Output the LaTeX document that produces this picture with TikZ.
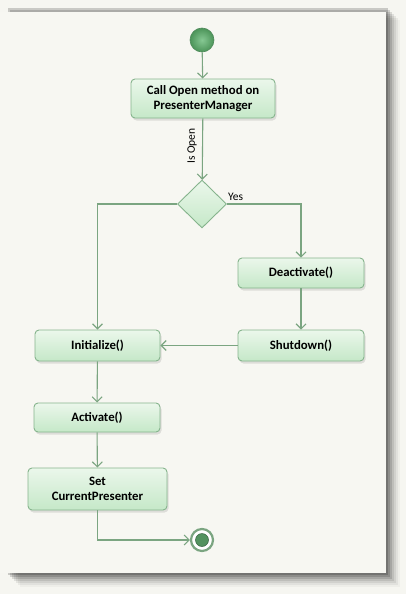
\documentclass[tikz,border=0pt]{standalone}
\usepackage{fontspec}
\setmainfont{Carlito}
\usetikzlibrary{arrows.meta,shapes.geometric,calc}
\definecolor{bgout}{HTML}{F6F6F1}
\definecolor{page}{HTML}{F7F7F2}
\definecolor{lnc}{HTML}{7BA581}
\definecolor{bord}{HTML}{86B48D}
\definecolor{ftop}{HTML}{EBF7EB}
\definecolor{fbot}{HTML}{C5E8C8}
\definecolor{dkgreen}{HTML}{4F8A5B}
\definecolor{ballc}{HTML}{62AC70}
\definecolor{ballin}{HTML}{86C893}
\definecolor{ballout}{HTML}{4C9459}
\tikzset{
  actbox/.style={draw=bord, line width=0.9pt, rounded corners=4pt, top color=ftop, bottom color=fbot,
    font=\bfseries\fontsize{12.8}{15.5}\selectfont, align=center, text=black, inner sep=0pt},
  conn/.style={draw=lnc, line width=1.1pt, -{Straight Barb[length=5pt,width=10pt]}},
  lbl/.style={font=\fontsize{11.5}{13}\selectfont, text=black},
}
\begin{document}
\begin{tikzpicture}[x=1pt,y=-1pt]
\useasboundingbox (0,0) rectangle (406,594);
\fill[bgout] (0,0) rectangle (406,594);
% page shadow
\foreach \i/\o in {14/0.03,12/0.05,10/0.07,8/0.09,6/0.12,4/0.15,2/0.18}{
  \fill[black, opacity=\o] (\i+6,12+\i-6) rectangle (386+\i,573+\i);
}
\fill[page] (0,12) rectangle (386,573);

% start node
\shade[inner color=ballin, outer color=ballout] (202,40) circle (12);
\node[circle, draw=dkgreen, line width=0.6pt, minimum size=24pt, inner sep=0pt] (start) at (202,40) {};

% box shadows
\foreach \cx/\cy/\w/\h in {203/98.5/144/39, 301/273/126/30, 301/345.5/126/31, 97.5/345.5/125/31, 97/417.5/126/29, 97.5/489/139/42}{
  \fill[black, opacity=0.10, rounded corners=4pt] (\cx-\w/2+1.5,\cy-\h/2+2.5) rectangle (\cx+\w/2+1.5,\cy+\h/2+2.5);
}

\node[actbox, minimum width=144pt, minimum height=39pt] (call) at (203,98.5) {Call Open method on\\PresenterManager};
\node[diamond, draw=bord, line width=0.9pt, top color=ftop, bottom color=fbot, minimum width=49pt, minimum height=48pt, inner sep=0pt] (dec) at (202,204) {};
\node[actbox, minimum width=126pt, minimum height=30pt] (deact) at (301,273) {Deactivate()};
\node[actbox, minimum width=126pt, minimum height=31pt] (shut) at (301,345.5) {Shutdown()};
\node[actbox, minimum width=125pt, minimum height=31pt] (init) at (97.5,345.5) {Initialize()};
\node[actbox, minimum width=126pt, minimum height=29pt] (act) at (97,417.5) {Activate()};
\node[actbox, minimum width=139pt, minimum height=42pt] (setcp) at (97.5,489) {Set\\CurrentPresenter};

% end node
\node[circle, draw=lnc, line width=2.2pt, fill=white, minimum size=22pt, inner sep=0pt] (end) at (202,540) {};
\fill[ballc!85!black] (end.center) circle (6.5);
\draw[dkgreen!70!black, line width=0.5pt] (end.center) circle (6.5);

% connectors
\draw[conn] (start) -- (call);
\draw[conn] (call) -- node[pos=0.45, rotate=90, anchor=south, lbl, yshift=2pt] (isopen) {Is Open} (dec);
\draw[conn] (dec.west) -| (init.north);
\draw[conn] (dec.east) -| (deact.north);
\node[lbl, anchor=south west, inner sep=1pt] (yes) at ([xshift=0pt,yshift=2.5pt]dec.east) {Yes};
\draw[conn] (deact) -- (shut);
\draw[conn] (shut) -- (init);
\draw[conn] (init) -- (act);
\draw[conn] (act) -- (setcp);
\draw[conn] (setcp.south) |- (end.west);
\end{tikzpicture}
\end{document}
